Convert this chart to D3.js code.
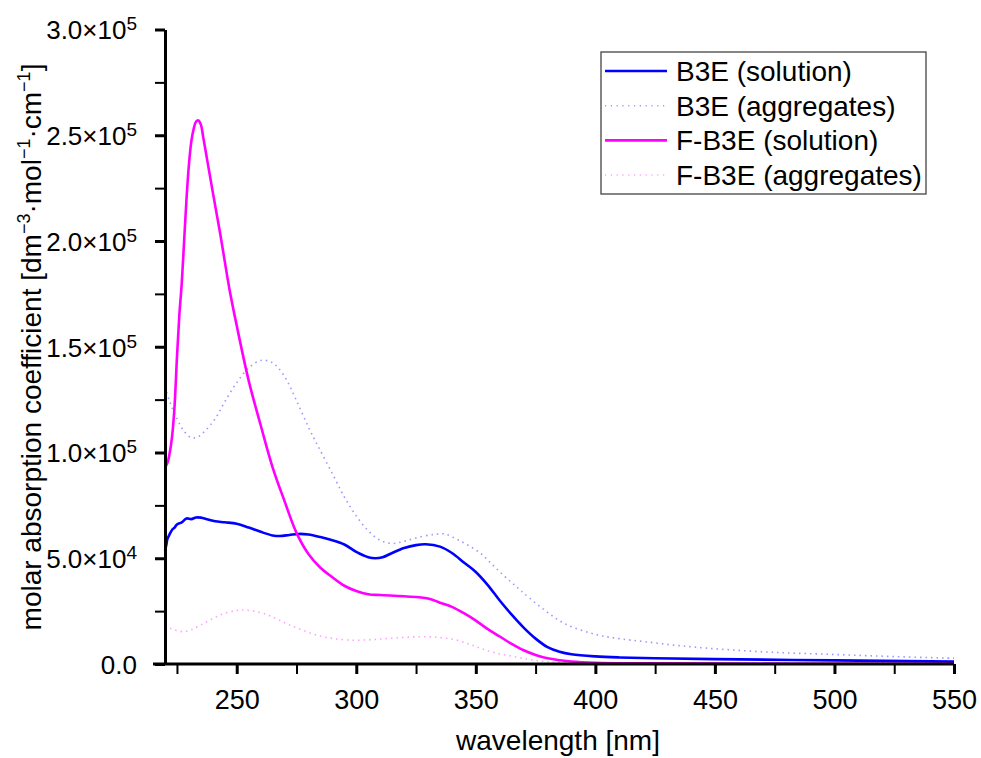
<!DOCTYPE html>
<html>
<head>
<meta charset="utf-8">
<script src="https://cdn.jsdelivr.net/npm/d3@7"></script>
<style>
  body { margin: 0; background: #fff; }
  svg { font-family: "Liberation Sans", Arial, sans-serif; }
  .axis path, .axis line { stroke: #000; }
</style>
</head>
<body>
<script>
// wavelengths in nm, values in dm^-3 mol^-1 cm^-1 (x1000)
var b3eSolWl = [220, 220.5, 221, 222, 223, 224, 225, 227, 229, 231, 233, 235, 238, 241, 245, 250, 255, 260, 265, 268, 272, 276, 280, 285, 290, 295, 300, 305, 308, 311, 315, 320, 325, 329, 335, 340, 345, 350, 355, 360, 365, 370, 375, 380, 385, 390, 400, 410, 425, 450, 500, 550];
var b3eSol = [53.5, 56, 59, 61.5, 63.5, 64.5, 66, 67, 68.8, 68.5, 69.3, 69.2, 68.3, 67.5, 67, 66.3, 64.5, 62.5, 60.8, 60.5, 61, 61.5, 61.2, 60, 58.5, 56.5, 53, 50.5, 50, 50.5, 52.5, 54.8, 56.2, 56.6, 55.5, 52.5, 48, 43.5, 37.3, 30, 23.3, 17.2, 12, 8, 5.8, 4.6, 3.6, 3.1, 2.7, 2.3, 1.7, 1.1];

var b3eAggWl = [220, 222, 225, 228, 231, 234, 237, 241, 245, 250, 255, 260, 264, 267, 271, 275, 280, 284, 290, 295, 300, 305, 310, 315, 320, 327, 333, 337, 342, 347, 352, 356, 360, 365, 369, 377, 387, 400, 410, 421, 435, 450, 475, 500, 525, 550];
var b3eAgg = [131, 124, 116, 110, 107, 107.5, 110.5, 116, 124, 133, 140, 143.5, 143, 140.5, 134, 124.5, 112, 103, 90, 79, 70, 63, 58.5, 57, 58, 60.2, 61.3, 61.5, 59, 56, 52.3, 48, 43.6, 38.5, 34.5, 27, 19.2, 14, 12, 10.5, 8.7, 7.2, 5.5, 4.5, 3.5, 2.7];

var fb3eSolWl = [220, 221, 222, 223, 224, 225, 226, 227, 228, 229, 230, 231, 232, 233, 234, 235, 236, 238, 240, 243, 247, 250, 255, 260, 265, 270, 275, 280, 285, 290, 295, 300, 305, 310, 320, 330, 335, 340, 345, 350, 355, 360, 365, 370, 375, 380, 390, 400, 420, 450, 500, 550];
var fb3eSol = [93, 95, 100, 108, 122, 145, 165, 180, 200, 220, 236, 247, 253, 256.5, 257, 255, 249, 236, 223, 204, 177, 160, 134, 113, 93, 77, 62, 52, 45.5, 41, 37, 34.5, 33, 32.6, 32, 31, 29, 27, 24, 20.5, 16.5, 13, 9.5, 6.5, 4.3, 2.7, 1.2, 0.6, 0.3, 0.2, 0.1, 0.1];

var fb3eAggWl = [220, 222, 225, 228, 231, 235, 240, 245, 250, 253, 257, 262, 267, 272, 278, 284, 290, 297, 305, 312, 320, 328, 335, 342, 347, 352, 358, 366, 373, 380, 390, 400, 450, 500, 550];
var fb3eAgg = [18, 17, 15.8, 15.3, 16.2, 18.5, 21.5, 24, 25.3, 25.5, 25, 23.6, 21.2, 18.5, 15.8, 13.5, 12.1, 11.3, 11.4, 12, 12.6, 12.9, 12.5, 11.3, 9.5, 7.4, 5.3, 3.5, 2, 1.1, 0.7, 0.5, 0.4, 0.3, 0.3];

var seriesNames = ["B3E (solution)", "B3E (aggregates)", "F-B3E (solution)", "F-B3E (aggregates)"];

var xMajor = [250, 300, 350, 400, 450, 500, 550];
var xMinor = [225, 275, 325, 375, 425, 475, 525];
var yMajor = [0, 50000, 100000, 150000, 200000, 250000, 300000];
var yMinor = [25000, 75000, 125000, 175000, 225000, 275000];
var yMantissa = ["0.0", "5.0×10", "1.0×10", "1.5×10", "2.0×10", "2.5×10", "3.0×10"];
var yExponent = ["", "4", "5", "5", "5", "5", "5"];

var W = 981, H = 758;
var svg = d3.select("body").append("svg").attr("width", W).attr("height", H);

var x = d3.scaleLinear().domain([220, 550]).range([165, 954]);
var y = d3.scaleLinear().domain([0, 300000]).range([664, 29.5]);

function pairs(wl, v) {
    return wl.map(function (w, i) { return [w, v[i] * 1000]; });
}

var series = [
    { name: seriesNames[0], data: pairs(b3eSolWl, b3eSol), color: "#0000ff", width: 2.6, dash: null, op: 1 },
    { name: seriesNames[1], data: pairs(b3eAggWl, b3eAgg), color: "#3333ff", width: 1.6, dash: "1.5,4", op: 0.5 },
    { name: seriesNames[2], data: pairs(fb3eSolWl, fb3eSol), color: "#ff00ff", width: 2.6, dash: null, op: 1 },
    { name: seriesNames[3], data: pairs(fb3eAggWl, fb3eAgg), color: "#ff33ff", width: 1.6, dash: "1.5,4", op: 0.45 }
];

var line = d3.line()
    .x(function (d) { return x(d[0]); })
    .y(function (d) { return y(d[1]); })
    .curve(d3.curveCatmullRom.alpha(0.5));

// dotted first so solid lines sit on top
[series[3], series[1], series[0], series[2]].forEach(function (s) {
    svg.append("path")
        .datum(s.data)
        .attr("fill", "none")
        .attr("stroke", s.color)
        .attr("stroke-width", s.width)
        .attr("stroke-opacity", s.op)
        .attr("stroke-dasharray", s.dash)
        .attr("stroke-linejoin", "round")
        .attr("d", line);
});

// axes
var xMinorAxis = svg.append("g").attr("class", "axis")
    .attr("transform", "translate(0,664)")
    .call(d3.axisBottom(x).tickValues(xMinor).tickSize(10).tickFormat(""));
xMinorAxis.select(".domain").remove();
xMinorAxis.selectAll("line").attr("stroke-width", 2);

var xAxis = svg.append("g").attr("class", "axis")
    .attr("transform", "translate(0,664)")
    .call(d3.axisBottom(x).tickValues(xMajor).tickSize(10).tickSizeOuter(0).tickPadding(16));
xAxis.select(".domain").attr("stroke-width", 3).attr("d", "M153,0H954");
xAxis.selectAll("line").attr("stroke-width", 3);
xAxis.selectAll("text").attr("font-size", 27).attr("fill", "#000")
    .attr("font-family", "Liberation Sans, Arial, sans-serif");

var yMinorAxis = svg.append("g").attr("class", "axis")
    .attr("transform", "translate(165,0)")
    .call(d3.axisLeft(y).tickValues(yMinor).tickSize(10).tickFormat(""));
yMinorAxis.select(".domain").remove();
yMinorAxis.selectAll("line").attr("stroke-width", 2);

var yAxis = svg.append("g").attr("class", "axis")
    .attr("transform", "translate(165,0)")
    .call(d3.axisLeft(y).tickValues(yMajor).tickSize(10).tickSizeOuter(0).tickPadding(18).tickFormat(""));
yAxis.select(".domain").attr("stroke-width", 3);
yAxis.selectAll("line").attr("stroke-width", 3);
yAxis.selectAll(".tick text").each(function (d, i) {
    var t = d3.select(this)
        .attr("font-size", 26)
        .attr("fill", "#000")
        .attr("font-family", "Liberation Sans, Arial, sans-serif")
        .attr("dy", "0.36em");
    t.append("tspan").text(yMantissa[i]);
    if (yExponent[i]) {
        t.append("tspan").attr("font-size", 19).attr("dy", -9).text(yExponent[i]);
    }
});

// axis titles
svg.append("text")
    .attr("x", 558).attr("y", 750)
    .attr("text-anchor", "middle")
    .attr("font-size", 28)
    .text("wavelength [nm]");

var yt = svg.append("text")
    .attr("transform", "translate(41,347) rotate(-90)")
    .attr("text-anchor", "middle")
    .attr("font-size", 28);
yt.append("tspan").text("molar absorption coefficient [dm");
yt.append("tspan").attr("font-size", 18).attr("dy", -11).text("−3");
yt.append("tspan").attr("dy", 11).text("·mol");
yt.append("tspan").attr("font-size", 18).attr("dy", -11).text("−1");
yt.append("tspan").attr("dy", 11).text("·cm");
yt.append("tspan").attr("font-size", 18).attr("dy", -11).text("−1");
yt.append("tspan").attr("dy", 11).text("]");

// legend
var legend = svg.append("g");
legend.append("rect")
    .attr("x", 601).attr("y", 52).attr("width", 325).attr("height", 142)
    .attr("fill", "#fff").attr("stroke", "#444").attr("stroke-width", 1.3);
series.forEach(function (s, i) {
    var ry = 71 + i * 34.7;
    legend.append("line")
        .attr("x1", 605).attr("x2", 667).attr("y1", ry).attr("y2", ry)
        .attr("stroke", s.color)
        .attr("stroke-width", s.dash ? 1.5 : 2.6)
        .attr("stroke-opacity", s.op)
        .attr("stroke-dasharray", s.dash ? "1.2,4.6" : null);
    legend.append("text")
        .attr("x", 676).attr("y", ry)
        .attr("dy", "0.36em")
        .attr("font-size", 28)
        .text(s.name);
});
</script>
</body>
</html>
